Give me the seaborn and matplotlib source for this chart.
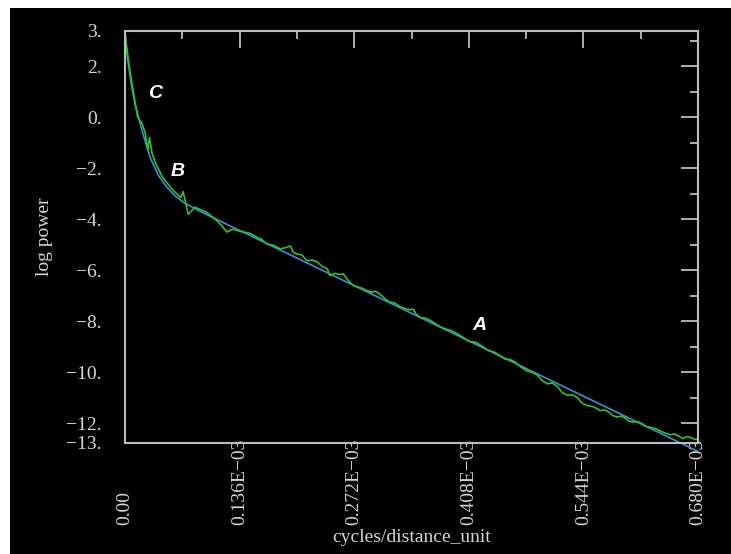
import pandas as pd
import matplotlib.pyplot as plt
from matplotlib.patches import Rectangle
from matplotlib.ticker import MultipleLocator
import seaborn as sns

# Settings
sns.set_theme(style="dark")
plt.rcParams['font.family'] = ['Liberation Serif', 'DejaVu Serif']

# ── Data (frequency in units of 1e-4 cycles/distance_unit) ──
fit_freq = [0.00, 0.03, 0.08, 0.12, 0.20, 0.30, 0.40, 0.50, 0.60, 0.70, 0.89, 6.80]
fit_logp = [3.30, 2.30, 1.20, 0.50, -0.50, -1.60, -2.30, -2.75, -3.10, -3.35, -3.69, -13.10]

obs_freq = [0.00, 0.02, 0.05, 0.09, 0.15, 0.20, 0.24, 0.27, 0.29, 0.32,
            0.36, 0.44, 0.56, 0.66, 0.69, 0.75, 0.83, 0.97, 1.07, 1.13,
            1.21, 1.28, 1.36, 1.48, 1.52, 1.57, 1.62, 1.68, 1.76, 1.84,
            1.90, 1.96, 2.00, 2.04, 2.10, 2.16, 2.22, 2.28, 2.34, 2.40,
            2.43, 2.49, 2.55, 2.59, 2.65, 2.71, 2.75, 2.81, 2.87, 2.93,
            2.97, 3.03, 3.08, 3.14, 3.20, 3.26, 3.32, 3.38, 3.42, 3.45,
            3.50, 3.57, 3.64, 3.72, 3.80, 3.87, 3.95, 4.02, 4.09, 4.16,
            4.24, 4.31, 4.39, 4.45, 4.51, 4.57, 4.63, 4.70, 4.77, 4.83,
            4.89, 4.95, 5.01, 5.07, 5.13, 5.19, 5.25, 5.31, 5.37, 5.42,
            5.48, 5.56, 5.64, 5.69, 5.74, 5.79, 5.84, 5.89, 5.94, 5.98,
            6.03, 6.08, 6.13, 6.18, 6.23, 6.29, 6.35, 6.41, 6.47, 6.52,
            6.57, 6.62, 6.66, 6.71, 6.76, 6.80]
obs_logp = [3.34, 2.75, 2.00, 1.17, 0.00, -0.23, -0.62, -1.28, -0.80, -1.40,
            -1.79, -2.33, -2.83, -3.15, -2.92, -3.81, -3.53, -3.73, -4.00, -4.19,
            -4.50, -4.39, -4.47, -4.55, -4.62, -4.72, -4.78, -4.97, -5.02, -5.16,
            -5.12, -5.05, -5.30, -5.36, -5.40, -5.63, -5.60, -5.67, -5.85, -5.94,
            -6.21, -6.12, -6.17, -6.14, -6.40, -6.60, -6.64, -6.70, -6.80, -6.86,
            -6.82, -6.95, -7.10, -7.25, -7.28, -7.42, -7.50, -7.55, -7.52, -7.70,
            -7.85, -7.88, -8.00, -8.18, -8.30, -8.36, -8.50, -8.65, -8.80, -8.82,
            -8.98, -9.14, -9.22, -9.35, -9.48, -9.50, -9.60, -9.80, -9.95, -10.00,
            -10.10, -10.32, -10.45, -10.42, -10.55, -10.80, -10.90, -10.88, -11.00, -11.20,
            -11.30, -11.35, -11.50, -11.48, -11.55, -11.70, -11.75, -11.72, -11.80, -11.92,
            -11.95, -11.93, -12.00, -12.12, -12.15, -12.20, -12.30, -12.38, -12.45, -12.42,
            -12.50, -12.60, -12.52, -12.55, -12.63, -12.62]

xtick_pos = [0.0, 1.36, 2.72, 4.08, 5.44, 6.80]
xtick_labels = ["0.00", "0.136E\u221203", "0.272E\u221203", "0.408E\u221203",
                "0.544E\u221203", "0.680E\u221203"]
ytick_pos = [3.38, 2, 0, -2, -4, -6, -8, -10, -12, -12.77]
ytick_labels = ["3.", "2.", "0.", "\u22122.", "\u22124.", "\u22126.", "\u22128.",
                "\u221210.", "\u221212.", "\u221213."]

annot_text = ["C", "B", "A"]
annot_x = [0.36, 0.63, 4.21]
annot_y = [0.93, -2.14, -8.15]

fit = pd.DataFrame({'freq': fit_freq, 'logp': fit_logp})
obs = pd.DataFrame({'freq': obs_freq, 'logp': obs_logp})

GREY = '#bdbdbd'
LIGHT = '#d6d6d6'

# ── Figure ────────────────────────────────────────
fig = plt.figure(figsize=(7.31, 5.54), dpi=100)
fig.patch.set_facecolor('white')
fig.add_artist(Rectangle((10 / 731, 0), 1, 1 - 8 / 554, transform=fig.transFigure,
                         facecolor='black', edgecolor='none', zorder=-10))

ax = fig.add_axes([0.171, 0.2004, 0.7839, 0.7437])
ax.set_facecolor('black')

sns.lineplot(data=fit, x='freq', y='logp', color='#3d8fd4', lw=1.2, ax=ax, clip_on=False)
sns.lineplot(data=obs, x='freq', y='logp', color='#2fc22f', lw=1.2, ax=ax)

for t, x, y in zip(annot_text, annot_x, annot_y):
    ax.text(x, y, t, color='white', fontsize=14, fontweight='bold', fontstyle='italic',
            family=['Liberation Sans', 'DejaVu Sans'], ha='center', va='center')

ax.set_xlim(0, 6.80)
ax.set_ylim(-12.77, 3.38)

ax.set_xticks(xtick_pos, xtick_labels)
ax.set_yticks(ytick_pos, ytick_labels)
ax.xaxis.set_minor_locator(MultipleLocator(0.68))
ax.yaxis.set_minor_locator(MultipleLocator(1))

ax.tick_params(which='both', direction='in', top=True, right=True, color=GREY,
               labelcolor=LIGHT, labelsize=14, width=1.3)
ax.tick_params(which='major', length=12)
ax.tick_params(which='minor', length=6)
ax.tick_params(axis='y', pad=17)
ax.tick_params(axis='x', pad=59)
for lbl in ax.get_xticklabels():
    lbl.set_rotation(90)
    lbl.set_rotation_mode('anchor')
    lbl.set_ha('left')
    lbl.set_va('center')

for s in ax.spines.values():
    s.set_color(GREY)
    s.set_linewidth(1.5)
    s.set_visible(True)

ax.grid(False)
ax.set_xlabel('cycles/distance_unit', color=LIGHT, fontsize=14)
ax.set_ylabel('log power', color=LIGHT, fontsize=14)
ax.xaxis.set_label_coords(0.5, -0.208)
ax.yaxis.set_label_coords(-0.125, 0.5)

plt.savefig('out.png', dpi=100, facecolor=fig.get_facecolor())
